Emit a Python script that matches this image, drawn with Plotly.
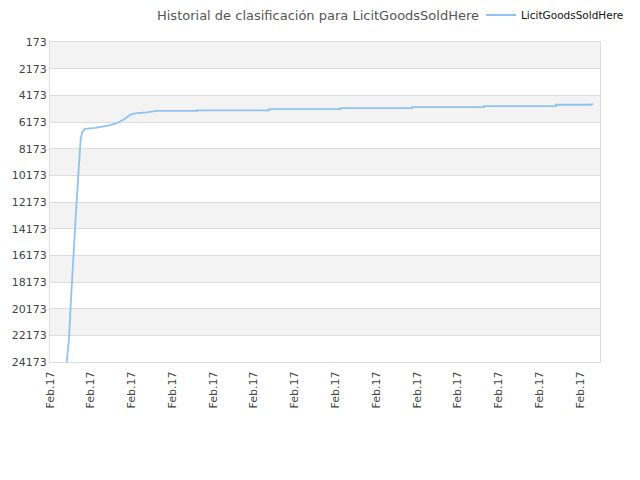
import plotly.graph_objects as go

# position along the time axis (in tick steps) and rank
steps_x = [0.41, 0.466, 0.508, 0.54, 0.571, 0.606, 0.638, 0.67, 0.704, 0.728, 0.753,
           0.792, 0.858, 1.104, 1.43, 1.636, 1.84, 1.98, 2.127, 2.372, 2.617,
           2.617, 3.606, 3.606, 5.37, 5.37, 7.125, 7.125, 8.88, 8.88,
           10.645, 10.645, 12.41, 12.41, 13.27, 13.32]
ranks = [24173, 22414, 19870, 17886, 16376, 14588, 12852, 11342, 9833, 8075, 7418,
         6943, 6686, 6611, 6437, 6263, 5931, 5607, 5509, 5456, 5390,
         5340, 5340, 5305, 5305, 5207, 5207, 5130, 5130, 5055,
         5055, 4980, 4980, 4880, 4880, 4800]

y_ticks = [173, 2173, 4173, 6173, 8173, 10173, 12173, 14173, 16173, 18173, 20173, 22173, 24173]
x_ticks = list(range(14))
x_labels = ["Feb.17"] * 14

fig = go.Figure()
fig.add_trace(go.Scatter(x=steps_x, y=ranks, mode="lines",
                         line=dict(color="#90c3f3", width=1.8),
                         name="LicitGoodsSoldHere"))

# alternating background bands
shapes = []
for i in range(len(y_ticks) - 1):
    if i % 2 == 0:
        shapes.append(dict(type="rect", xref="paper", yref="y", x0=0, x1=1,
                           y0=y_ticks[i], y1=y_ticks[i + 1],
                           fillcolor="#f3f3f3", line_width=0, layer="below"))

# the page has an 8px body margin, so the figure is shifted left/up to compensate
fig.update_layout(
    width=640, height=480,
    margin=dict(l=42, r=48, t=34, b=126, autoexpand=False),
    plot_bgcolor="white", paper_bgcolor="white",
    font=dict(family="DejaVu Sans", size=11, color="#444"),
    title=dict(text="Historial de clasificación para LicitGoodsSoldHere",
               x=310 / 640, xanchor="center", xref="container",
               y=1 - 7 / 480, yref="container", yanchor="middle",
               font=dict(size=13, color="#555")),
    showlegend=True,
    legend=dict(x=473 / 640, xref="container", xanchor="left",
                y=1 - 7 / 480, yref="container", yanchor="middle",
                orientation="h", font=dict(size=10.5, color="#111"),
                bgcolor="rgba(0,0,0,0)", itemwidth=30),
    shapes=shapes,
)
fig.update_xaxes(range=[0, 13.49], tickvals=x_ticks, ticktext=x_labels,
                 tickangle=-90, showgrid=False, zeroline=False, automargin=False,
                 showline=True, linecolor="#ddd", mirror=True,
                 ticks="outside", ticklen=4, tickcolor="white",
                 tickfont=dict(size=11, color="#444"))
fig.update_yaxes(range=[24173, 173], tickvals=y_ticks,
                 ticktext=[str(v) for v in y_ticks], showgrid=True,
                 gridcolor="#ddd", zeroline=False, showline=True, automargin=False,
                 linecolor="#ddd", mirror=True,
                 tickfont=dict(size=11, color="#444"))

fig.write_html("out.html")
